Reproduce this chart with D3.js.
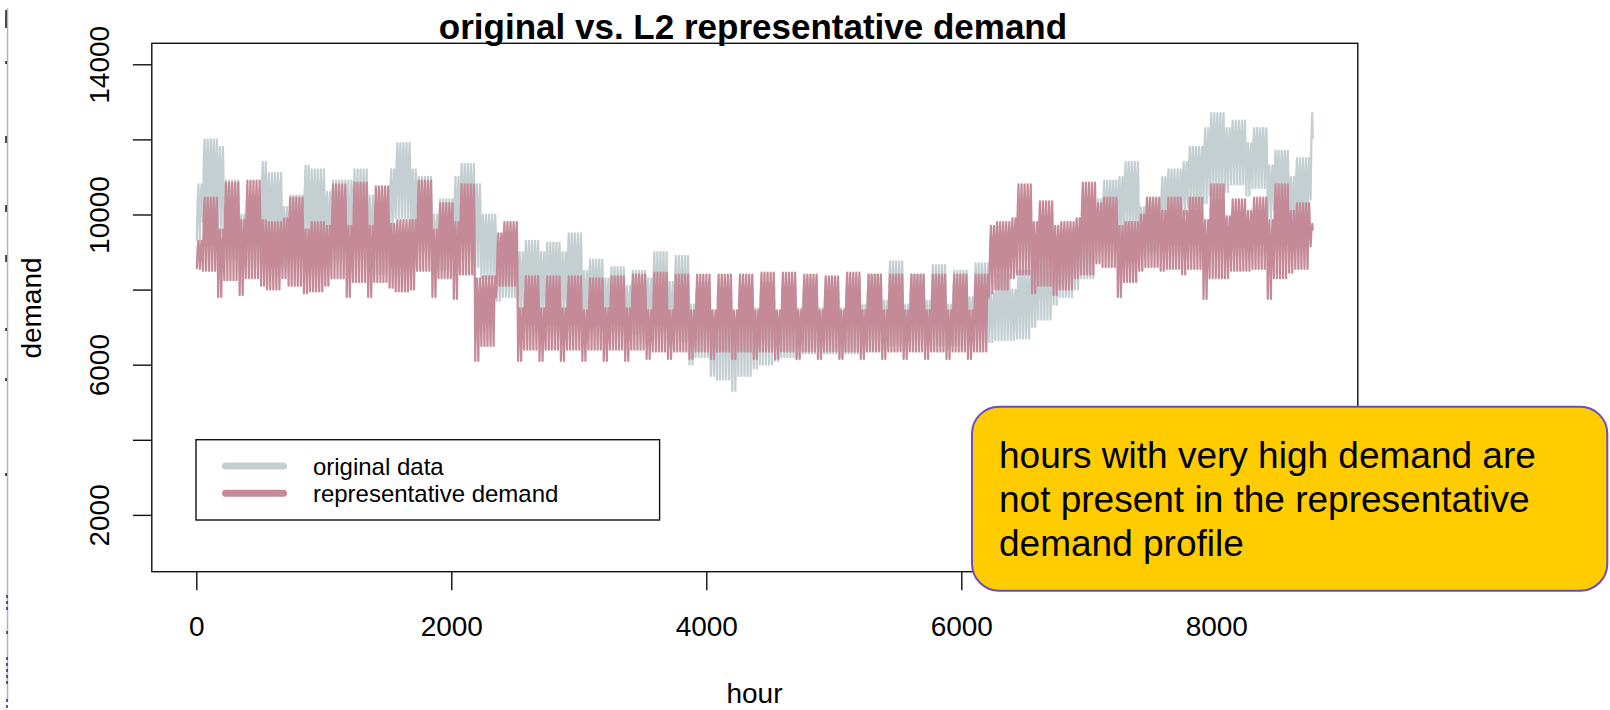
<!DOCTYPE html>
<html>
<head>
<meta charset="utf-8">
<script src="https://cdn.jsdelivr.net/npm/d3@7"></script>
<style>
  html, body { margin: 0; padding: 0; background: #ffffff; }
  svg { display: block; font-family: "Liberation Sans", Arial, Helvetica, sans-serif; }
</style>
</head>
<body>
<svg id="chart" width="1610" height="710"></svg>
<script>
// ---- text ----
const chartTitle = "original vs. L2 representative demand";
const xAxisTitle = "hour";
const yAxisTitle = "demand";
const seriesNames = ["original data", "representative demand"];
const noteLines = [
  "hours with very high demand are",
  "not present in the representative",
  "demand profile"
];

// ---- axes ----
const xTickValues = [0, 2000, 4000, 6000, 8000];
const yTickValues = [2000, 4000, 6000, 8000, 10000, 12000, 14000];
const yTickLabelled = [2000, 6000, 10000, 14000];
const hoursInYear = 8760;

// ---- weekly readings, week 0 .. 52 (each week opens with its two weekend days) ----
// original data
const origWeekdayPeak = [
  12000, 10900, 10500, 11100, 10500, 11200, 10900, 11200, 10700, 11900,
  11000, 10400, 11350, 10000, 9300, 9300, 9250, 9500, 8800, 8600,
  8500, 9000, 8900, 8200, 7900, 8000, 8200, 8200, 8300, 8300,
  8300, 8400, 8750, 8400, 8650, 8500, 8700, 8400, 8500, 9100,
  9600, 10000, 10900, 11400, 10400, 11200, 11800, 12700, 12500, 12300,
  11700, 11500, 12700
];
const origWeekdayLow = [
  9800, 8800, 8600, 9000, 8700, 9000, 8800, 8800, 8400, 9900,
  9000, 8500, 9100, 8300, 7800, 7400, 7300, 7300, 7000, 6900,
  6800, 6700, 6600, 6200, 5600, 5700, 6000, 6200, 6300, 6300,
  6300, 6400, 6500, 6500, 6500, 6500, 6600, 6650, 6700, 7200,
  7800, 8300, 9200, 9500, 9000, 9500, 10200, 10500, 10800, 10700,
  10100, 9600, 10400
];
const origWeekendPeak = [
  10800, 11800, 10000, 11400, 10200, 11300, 10600, 10900, 10500, 11200,
  11200, 10000, 11000, 10800, 9000, 9000, 9000, 9000, 8500, 8300,
  8100, 8300, 8200, 7600, 7300, 7300, 7500, 7400, 7500, 7500,
  7500, 7600, 7700, 7600, 7700, 7600, 7800, 7900, 8000, 8500,
  9200, 9600, 10400, 11000, 10200, 11000, 11400, 12300, 12300, 11900,
  11300, 11000, 12700
];
const origWeekendLow = [
  9300, 9500, 8500, 9200, 8600, 9100, 8700, 8600, 8300, 9500,
  9200, 8400, 8900, 8600, 7700, 7200, 7200, 7200, 6900, 6800,
  6700, 6500, 6400, 6000, 5700, 5300, 5900, 6100, 6200, 6200,
  6200, 6300, 6400, 6400, 6400, 6400, 6500, 6600, 6650, 7000,
  7600, 8000, 9000, 9300, 8900, 9400, 10000, 10300, 10600, 10500,
  9900, 9500, 10400
];

// representative demand
const repWeekdayPeak = [
  10450, 10850, 10900, 9800, 10450, 9800, 10800, 10850, 10750, 9850,
  10900, 10300, 10800, 8350, 9800, 8350, 8350, 8350, 8300, 8350,
  8400, 8450, 8400, 8400, 8400, 8400, 8450, 8450, 8400, 8350,
  8450, 8400, 8400, 8400, 8400, 8400, 8400, 9800, 10800, 10350,
  9800, 10850, 10450, 9800, 10450, 10450, 10450, 10800, 10400, 10450,
  10800, 10300, 9700
];
const repWeekdayLow = [
  8500, 8250, 8300, 8000, 8100, 7950, 8300, 8200, 8200, 7950,
  8500, 8300, 8400, 6500, 8100, 6400, 6400, 6400, 6400, 6400,
  6400, 6350, 6350, 6350, 6350, 6350, 6350, 6350, 6350, 6350,
  6350, 6350, 6350, 6350, 6350, 6350, 6350, 8000, 8400, 8100,
  8000, 8400, 8600, 8200, 8600, 8550, 8550, 8300, 8500, 8550,
  8300, 8550, 9150
];
const repWeekendPeak = [
  9300, 9600, 9850, 9850, 9900, 9600, 9700, 9700, 9700, 9750,
  9850, 9600, 9800, 8300, 9500, 7500, 7500, 7500, 7450, 7500,
  7500, 7450, 7450, 7450, 7450, 7450, 7450, 7450, 7450, 7450,
  7450, 7450, 7450, 7450, 7450, 7450, 7450, 9700, 9900, 9800,
  9700, 9900, 10300, 9700, 10000, 10100, 10100, 9850, 9950, 10100,
  9850, 10100, 9750
];
const repWeekendLow = [
  8550, 7800, 7850, 8100, 8300, 7900, 8100, 7800, 7800, 8050,
  8000, 7800, 7750, 6100, 8100, 6100, 6100, 6100, 6100, 6100,
  6100, 6150, 6150, 6150, 6150, 6150, 6150, 6150, 6150, 6150,
  6150, 6150, 6150, 6150, 6150, 6150, 6150, 7900, 8300, 7900,
  7850, 8300, 8700, 7800, 8500, 8500, 8400, 7750, 8300, 8500,
  7750, 8450, 9150
];

// course of a day: [hour of day, share of the way from the daily low to the daily high]
const dailyProfile = [[4, 0], [10, 0.7], [17, 1], [21, 0.7]];

// ---- colours ----
const colOriginal = "#c3cfd1";
const colRepresentative = "#c58a97";

function hourlySeries(wdPeak, wdLow, wePeak, weLow) {
  const pts = [];
  for (let w = 0; w < wdPeak.length; w++) {
    for (let d = 0; d < 7; d++) {
      const start = w * 168 + d * 24;
      if (start >= hoursInYear) break;
      const weekend = d < 2;
      const lo = weekend ? weLow[w] : wdLow[w];
      const hi = weekend ? wePeak[w] : wdPeak[w];
      dailyProfile.forEach(([h, f]) => {
        const hour = start + h;
        if (hour <= hoursInYear) pts.push({ hour, value: lo + f * (hi - lo) });
      });
    }
  }
  return pts;
}

const original = hourlySeries(origWeekdayPeak, origWeekdayLow, origWeekendPeak, origWeekendLow);
const representative = hourlySeries(repWeekdayPeak, repWeekdayLow, repWeekendPeak, repWeekendLow);

// ---- layout ----
const plot = { left: 151.8, right: 1357.8, top: 43.3, bottom: 571.7 };
const svg = d3.select("#chart");

const x = d3.scaleLinear().domain([-349, 9110]).range([plot.left, plot.right]);
const y = d3.scaleLinear().domain([487, 14559]).range([plot.bottom, plot.top]);

// page edge rule with small marks
const edge = svg.append("g");
edge.append("line").attr("x1", 7.5).attr("x2", 7.5).attr("y1", 8).attr("y2", 702)
  .attr("stroke", "#b4b4b4").attr("stroke-width", 1.5);
[[10, 28], [61, 64], [136, 143], [205, 212], [255, 262], [328, 331], [378, 381], [473, 476]].forEach(([a, b]) => {
  edge.append("line").attr("x1", 6).attr("x2", 6).attr("y1", a).attr("y2", b)
    .attr("stroke", "#222").attr("stroke-width", 1.6);
});
[[595, 613], [631, 636], [657, 686], [699, 709]].forEach(([a, b]) => {
  edge.append("line").attr("x1", 7).attr("x2", 7).attr("y1", a).attr("y2", b)
    .attr("stroke", "#2a2aa8").attr("stroke-width", 1.6).attr("stroke-dasharray", "3,3");
});

// series
const line = d3.line().x(d => x(d.hour)).y(d => y(d.value));
svg.append("path").datum(original).attr("d", line)
  .attr("fill", "none").attr("stroke", colOriginal).attr("stroke-width", 2.2)
  .attr("stroke-linejoin", "round");
svg.append("path").datum(representative).attr("d", line)
  .attr("fill", "none").attr("stroke", colRepresentative).attr("stroke-width", 2.2)
  .attr("stroke-linejoin", "round");

// plot frame
svg.append("rect")
  .attr("x", plot.left).attr("y", plot.top)
  .attr("width", plot.right - plot.left).attr("height", plot.bottom - plot.top)
  .attr("fill", "none").attr("stroke", "#111").attr("stroke-width", 1.4);

// x axis
const xAxis = svg.append("g")
  .attr("transform", `translate(0,${plot.bottom})`)
  .call(d3.axisBottom(x).tickValues(xTickValues).tickSize(18.5).tickFormat(d3.format("d")));
xAxis.select(".domain").remove();
xAxis.selectAll(".tick line").attr("stroke", "#111").attr("stroke-width", 1.4);
xAxis.selectAll(".tick text")
  .attr("y", 64.3).attr("dy", 0)
  .attr("fill", "#000").style("font-size", "28px")
  .style("font-family", "'Liberation Sans', Arial, sans-serif");

// y axis
const yAxis = svg.append("g")
  .attr("transform", `translate(${plot.left},0)`)
  .call(d3.axisLeft(y).tickValues(yTickValues).tickSize(18.9)
    .tickFormat(d => yTickLabelled.includes(d) ? d3.format("d")(d) : ""));
yAxis.select(".domain").remove();
yAxis.selectAll(".tick line").attr("stroke", "#111").attr("stroke-width", 1.4);
yAxis.selectAll(".tick text")
  .attr("x", 0).attr("dy", 0)
  .attr("transform", "translate(-42.5,0) rotate(-90)")
  .attr("text-anchor", "middle")
  .attr("fill", "#000").style("font-size", "28px")
  .style("font-family", "'Liberation Sans', Arial, sans-serif");

// titles
svg.append("text").attr("x", 753).attr("y", 38.5).attr("text-anchor", "middle")
  .style("font-size", "35px").style("font-weight", "bold").text(chartTitle);
svg.append("text").attr("x", 754.5).attr("y", 703).attr("text-anchor", "middle")
  .style("font-size", "28px").text(xAxisTitle);
svg.append("text").attr("transform", "translate(41,308) rotate(-90)").attr("text-anchor", "middle")
  .style("font-size", "28px").text(yAxisTitle);

// legend
const legend = svg.append("g");
legend.append("rect").attr("x", 196).attr("y", 439.7).attr("width", 463.6).attr("height", 80.3)
  .attr("fill", "#fff").attr("stroke", "#111").attr("stroke-width", 1.4);
[colOriginal, colRepresentative].forEach((c, i) => {
  const ly = 466 + i * 27.3;
  legend.append("line").attr("x1", 225.5).attr("x2", 283.5).attr("y1", ly).attr("y2", ly)
    .attr("stroke", c).attr("stroke-width", 7).attr("stroke-linecap", "round");
  legend.append("text").attr("x", 312.9).attr("y", ly + 8.7)
    .style("font-size", "24px").attr("fill", "#000").text(seriesNames[i]);
});

// call-out note
const noteG = svg.append("g");
noteG.append("rect").attr("x", 972).attr("y", 406.7).attr("width", 635.3).attr("height", 184)
  .attr("rx", 27).attr("ry", 27)
  .attr("fill", "#ffcc00").attr("stroke", "#6a4cc8").attr("stroke-width", 2);
noteLines.forEach((t, i) => {
  noteG.append("text").attr("x", 999).attr("y", 468.3 + i * 44)
    .style("font-size", "37px").attr("fill", "#000").text(t);
});
</script>
</body>
</html>
